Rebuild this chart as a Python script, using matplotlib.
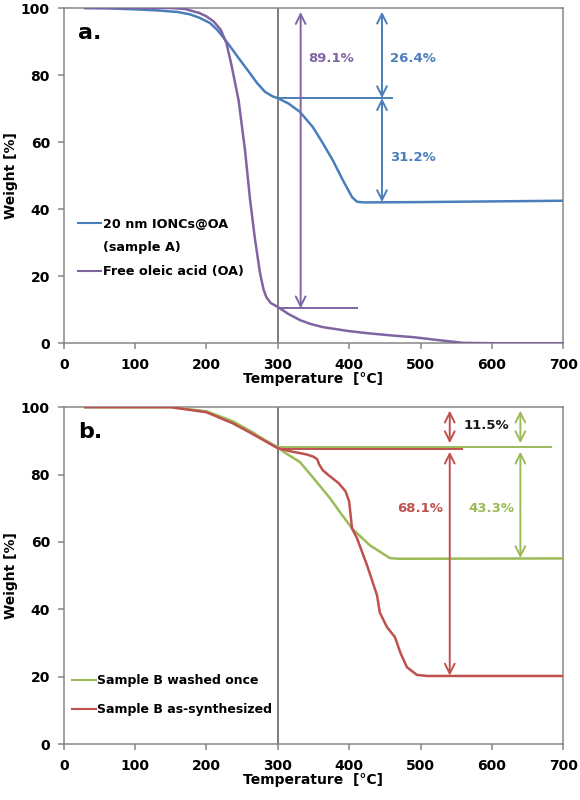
import matplotlib
matplotlib.use("Agg")
import matplotlib.pyplot as plt
from matplotlib.lines import Line2D

# TGA data
# panel a
temp_ionc = [30, 60, 100, 130, 160, 177, 190, 205, 215, 223, 235, 247, 260, 271, 282, 293, 300,
             315, 331, 349, 363, 377, 391, 404, 411, 420, 500, 600, 700]
weight_ionc = [100, 99.9, 99.6, 99.3, 98.8, 98.1, 97.1, 95.5, 93.5, 91.4, 88.0, 84.5, 80.8, 77.6,
               75.0, 73.6, 73.1, 71.5, 69.0, 64.5, 59.7, 54.6, 48.7, 43.6, 42.2, 42.0, 42.1, 42.3, 42.5]

temp_oa = [30, 150, 170, 190, 200, 210, 220, 228, 235, 245, 254, 261, 268, 275, 280, 284,
           290, 300, 315, 331, 345, 363, 400, 425, 460, 490, 530, 560, 600, 700]
weight_oa = [100, 100, 99.7, 98.5, 97.5, 96.0, 93.5, 89.5, 83.0, 72.5, 57.6, 43.0, 31.0, 21.0,
             16.0, 13.7, 12.0, 10.8, 8.7, 6.9, 5.8, 4.8, 3.6, 3.0, 2.3, 1.8, 0.8, 0.1, 0, 0]

# panel b
temp_washed = [30, 150, 200, 237, 265, 280, 300, 310, 331, 349, 373, 390, 404, 429, 457, 470, 700]
weight_washed = [100, 100, 98.8, 95.8, 92.5, 90.5, 88.1, 86.5, 83.7, 79.2, 73.0, 68.0, 64.0,
                 59.0, 55.2, 55.0, 55.1]

temp_synth = [30, 150, 200, 237, 265, 280, 300, 320, 340, 350, 355, 358, 363, 370, 385, 395, 400,
              404, 411, 425, 439, 443, 453, 464, 472, 481, 495, 510, 700]
weight_synth = [100, 100, 98.5, 95.2, 92.0, 90.2, 87.8, 86.8, 86.0, 85.3, 84.6, 83.0, 81.3, 80.0,
                77.5, 75.0, 72.0, 64.0, 61.1, 53.1, 44.2, 39.0, 34.7, 31.8, 27.0, 22.8, 20.5, 20.2, 20.2]

xticks = [0, 100, 200, 300, 400, 500, 600, 700]
yticks = [0, 20, 40, 60, 80, 100]

BLUE = '#4a7ebb'
PURPLE = '#8064a2'
GREEN = '#9bbb59'
RED = '#c0504d'
GRAY = '#868686'

plt.rcParams['font.family'] = ['DejaVu Sans']
plt.rcParams['font.weight'] = 'bold'

fig = plt.figure(figsize=(5.8, 8), dpi=100)
ax1 = fig.add_axes([0.110, 0.571, 0.861, 0.419])
ax2 = fig.add_axes([0.110, 0.070, 0.861, 0.421])


def style_axis(ax):
    ax.set_xlim(0, 700)
    ax.set_ylim(0, 100)
    ax.set_xticks(xticks)
    ax.set_yticks(yticks)
    for s in ax.spines.values():
        s.set_color(GRAY)
        s.set_linewidth(1.1)
    ax.tick_params(axis='both', direction='out', length=4, width=1.1, color=GRAY,
                   labelsize=10)
    ax.tick_params(axis='x', pad=7)
    ax.tick_params(axis='y', pad=6)
    ax.set_xlabel('Temperature  [°C]', fontsize=10, fontweight='bold', labelpad=0)
    ax.set_ylabel('Weight [%]', fontsize=10, fontweight='bold', labelpad=2)
    ax.axvline(300, color='#595959', lw=1.1, zorder=1)


def double_arrow(ax, x, y0, y1, color):
    ax.annotate('', xy=(x, y1), xytext=(x, y0),
                arrowprops=dict(arrowstyle='<->,head_length=0.7,head_width=0.35',
                                color=color, lw=1.4, shrinkA=0, shrinkB=0))


# ---- panel a ----
style_axis(ax1)
ax1.plot(temp_ionc, weight_ionc, color=BLUE, lw=1.8, zorder=3)
ax1.plot(temp_oa, weight_oa, color=PURPLE, lw=1.8, zorder=3)

ax1.hlines(73.1, 300, 461, color=BLUE, lw=1.4)
ax1.hlines(10.4, 300, 412, color=PURPLE, lw=1.4)
double_arrow(ax1, 446, 98.9, 73.1, BLUE)
double_arrow(ax1, 446, 73.1, 42.1, BLUE)
double_arrow(ax1, 332, 98.8, 10.4, PURPLE)
ax1.text(457, 85, '26.4%', color=BLUE, fontsize=9.5, va='center', ha='left')
ax1.text(457, 55.5, '31.2%', color=BLUE, fontsize=9.5, va='center', ha='left')
ax1.text(342, 85, '89.1%', color=PURPLE, fontsize=9.5, va='center', ha='left')
ax1.text(0.028, 0.955, 'a.', transform=ax1.transAxes, fontsize=16, va='top', ha='left')

handles1 = [Line2D([], [], color=BLUE, lw=1.5), Line2D([], [], color='none'),
            Line2D([], [], color=PURPLE, lw=1.5)]
labels1 = ['20 nm IONCs@OA', '(sample A)', 'Free oleic acid (OA)']
ax1.legend(handles1, labels1, loc='upper left', bbox_to_anchor=(0.018, 0.39),
           frameon=False, fontsize=9.2, handlelength=1.8, handletextpad=0.15,
           labelspacing=0.85, borderaxespad=0)

# ---- panel b ----
style_axis(ax2)
ax2.plot(temp_washed, weight_washed, color=GREEN, lw=1.8, zorder=3)
ax2.plot(temp_synth, weight_synth, color=RED, lw=1.8, zorder=3)

ax2.hlines(88.1, 300, 684, color=GREEN, lw=1.4)
ax2.hlines(87.5, 300, 560, color=RED, lw=1.4)
double_arrow(ax2, 541, 99.0, 89.3, RED)
double_arrow(ax2, 640, 99.0, 89.3, GREEN)
double_arrow(ax2, 541, 86.8, 20.3, RED)
double_arrow(ax2, 640, 86.8, 55.2, GREEN)
ax2.text(560, 94.5, '11.5%', color='#1a1a1a', fontsize=9.5, va='center', ha='left')
ax2.text(499, 70, '68.1%', color=RED, fontsize=9.5, va='center', ha='center')
ax2.text(600, 70, '43.3%', color=GREEN, fontsize=9.5, va='center', ha='center')
ax2.text(0.028, 0.955, 'b.', transform=ax2.transAxes, fontsize=16, va='top', ha='left')

handles2 = [Line2D([], [], color=GREEN, lw=1.5), Line2D([], [], color=RED, lw=1.5)]
labels2 = ['Sample B washed once', 'Sample B as-synthesized']
ax2.legend(handles2, labels2, loc='upper left', bbox_to_anchor=(0.006, 0.222),
           frameon=False, fontsize=9, handlelength=1.9, handletextpad=0.15,
           labelspacing=1.3, borderaxespad=0)

fig.savefig('out.png', dpi=100)
